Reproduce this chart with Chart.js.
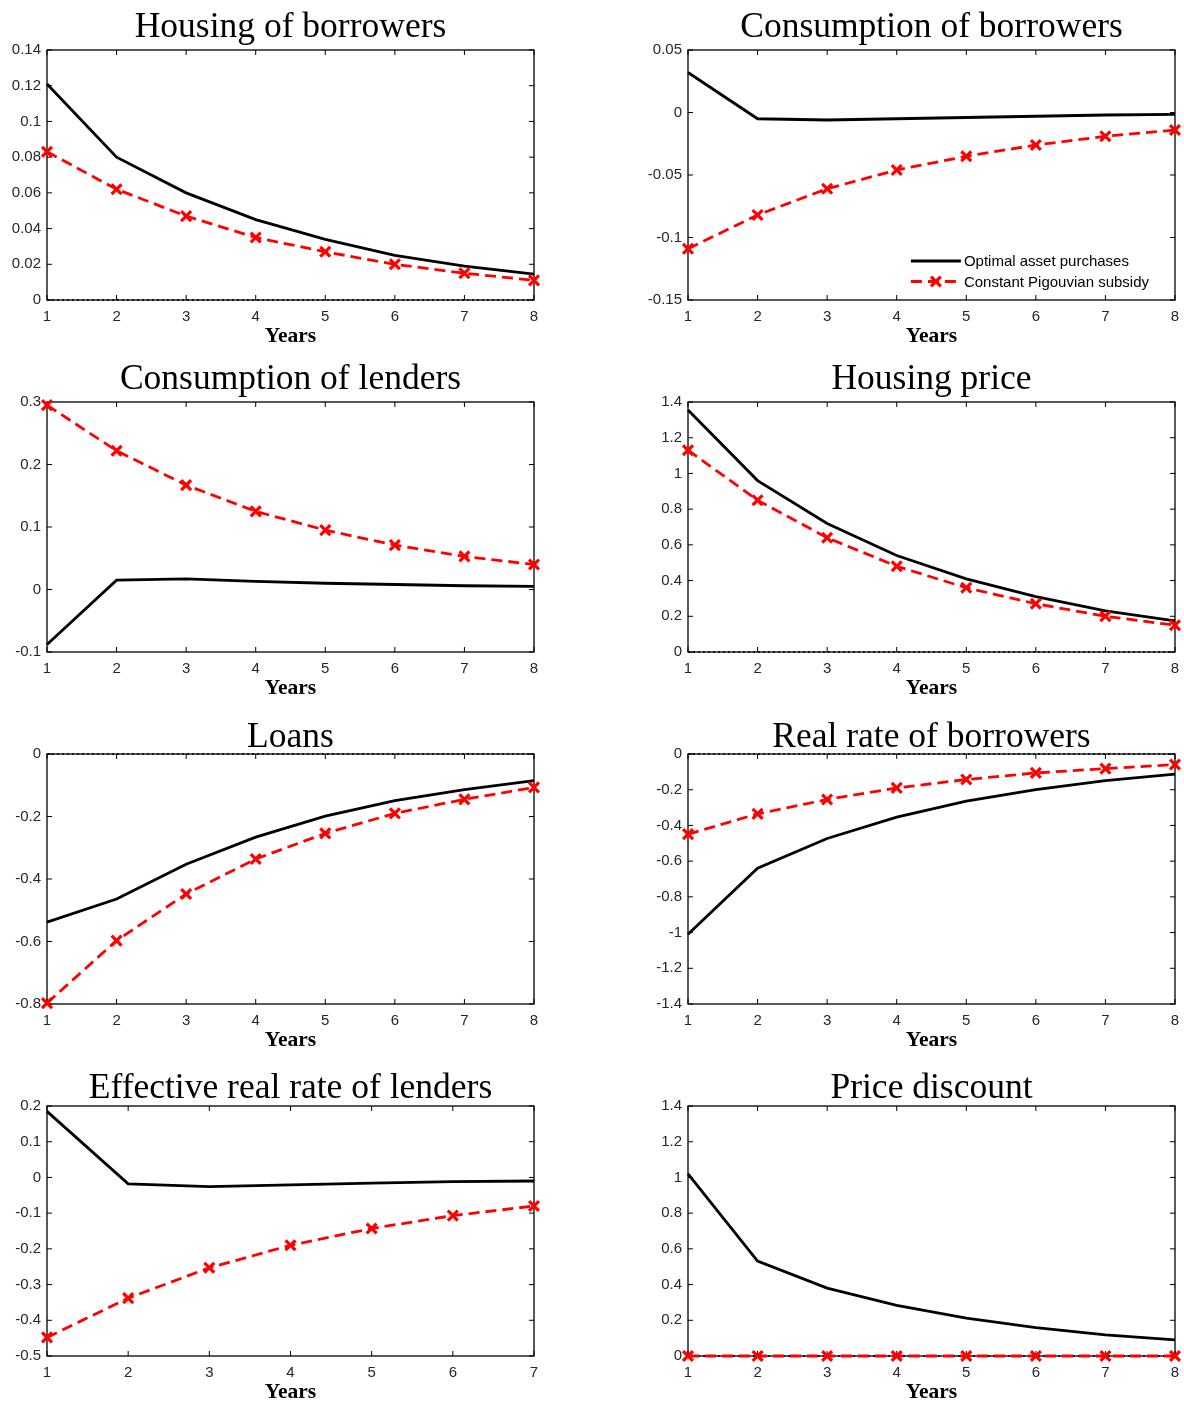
<!DOCTYPE html>
<html>
<head>
<meta charset="utf-8">
<script src="https://cdn.jsdelivr.net/npm/chart.js@4.4.1/dist/chart.umd.min.js"></script>
<style>
body { margin: 0; background: #fff; overflow: hidden; }
#wrap { position: relative; width: 1184px; height: 1403px; overflow: hidden; }
canvas { position: absolute; }
</style>
</head>
<body>
<div id="wrap">
    <canvas id="c1"></canvas>
    <canvas id="c2"></canvas>
    <canvas id="c3"></canvas>
    <canvas id="c4"></canvas>
    <canvas id="c5"></canvas>
    <canvas id="c6"></canvas>
    <canvas id="c7"></canvas>
    <canvas id="c8"></canvas>
</div>
<script>
const years8 = [1, 2, 3, 4, 5, 6, 7, 8];
const years7 = [1, 2, 3, 4, 5, 6, 7];
const seriesNames = ["Optimal asset purchases", "Constant Pigouvian subsidy"];

// Housing of borrowers
const housingBorrOpt = [0.121, 0.080, 0.060, 0.045, 0.034, 0.025, 0.019, 0.0145];
const housingBorrPig = [0.083, 0.062, 0.047, 0.035, 0.027, 0.020, 0.015, 0.011];
const housingBorrTicks = [0, 0.02, 0.04, 0.06, 0.08, 0.1, 0.12, 0.14];

// Consumption of borrowers
const consBorrOpt = [0.032, -0.005, -0.006, -0.005, -0.004, -0.003, -0.002, -0.0015];
const consBorrPig = [-0.109, -0.082, -0.061, -0.046, -0.035, -0.026, -0.019, -0.014];
const consBorrTicks = [-0.15, -0.1, -0.05, 0, 0.05];

// Consumption of lenders
const consLendOpt = [-0.088, 0.015, 0.017, 0.013, 0.010, 0.008, 0.006, 0.005];
const consLendPig = [0.295, 0.222, 0.167, 0.125, 0.095, 0.071, 0.053, 0.040];
const consLendTicks = [-0.1, 0, 0.1, 0.2, 0.3];

// Housing price
const housePriceOpt = [1.355, 0.96, 0.72, 0.54, 0.41, 0.31, 0.23, 0.174];
const housePricePig = [1.13, 0.85, 0.64, 0.48, 0.36, 0.27, 0.20, 0.15];
const housePriceTicks = [0, 0.2, 0.4, 0.6, 0.8, 1, 1.2, 1.4];

// Loans
const loansOpt = [-0.538, -0.464, -0.353, -0.266, -0.199, -0.149, -0.114, -0.085];
const loansPig = [-0.797, -0.597, -0.448, -0.336, -0.254, -0.190, -0.145, -0.107];
const loansTicks = [-0.8, -0.6, -0.4, -0.2, 0];

// Real rate of borrowers
const rateBorrOpt = [-1.01, -0.64, -0.473, -0.354, -0.264, -0.199, -0.149, -0.113];
const rateBorrPig = [-0.449, -0.335, -0.255, -0.190, -0.143, -0.106, -0.082, -0.059];
const rateBorrTicks = [-1.4, -1.2, -1, -0.8, -0.6, -0.4, -0.2, 0];

// Effective real rate of lenders
const rateLendOpt = [0.185, -0.018, -0.026, -0.021, -0.016, -0.012, -0.010];
const rateLendPig = [-0.448, -0.338, -0.253, -0.190, -0.143, -0.107, -0.080];
const rateLendTicks = [-0.5, -0.4, -0.3, -0.2, -0.1, 0, 0.1, 0.2];

// Price discount
const discountOpt = [1.02, 0.532, 0.380, 0.283, 0.212, 0.159, 0.118, 0.090];
const discountPig = [0, 0, 0, 0, 0, 0, 0, 0];
const discountTicks = [0, 0.2, 0.4, 0.6, 0.8, 1, 1.2, 1.4];

// layout of the 2x4 grid
const colLeft = [0, 590];
const colWidth = [560, 598];
const yAxisWidth = [47, 98];
const padRight = [26, 13];
const rowTop = [0, 352, 704, 1056];
const titleGap = [15, 15, 9, 10];

const tickFont = { family: "'Liberation Sans', Arial, sans-serif", size: 15 };
const tickColor = "#262626";

// box around the plot with inward ticks on all sides
const framePlugin = {
    id: "frame",
    beforeDatasetsDraw(chart) {
        const { ctx, chartArea: a, scales } = chart;
        ctx.save();
        ctx.strokeStyle = "#000";
        ctx.lineWidth = 1.3;
        ctx.strokeRect(a.left, a.top, a.right - a.left, a.bottom - a.top);
        ctx.lineWidth = 1;
        ctx.beginPath();
        scales.x.ticks.forEach((t) => {
            const px = scales.x.getPixelForValue(t.value);
            ctx.moveTo(px, a.bottom); ctx.lineTo(px, a.bottom - 5);
            ctx.moveTo(px, a.top); ctx.lineTo(px, a.top + 5);
        });
        scales.y.ticks.forEach((t) => {
            const py = scales.y.getPixelForValue(t.value);
            ctx.moveTo(a.left, py); ctx.lineTo(a.left + 5, py);
            ctx.moveTo(a.right, py); ctx.lineTo(a.right - 5, py);
        });
        ctx.stroke();
        ctx.restore();
    },
};

// legend inside the bottom-right corner (only on one panel)
const insideLegend = {
    id: "insideLegend",
    afterDatasetsDraw(chart) {
        const { ctx, chartArea: a } = chart;
        const items = chart.data.datasets.filter((d) => d.label);
        ctx.save();
        ctx.font = "15px 'Liberation Sans', Arial, sans-serif";
        const w = Math.max(...items.map((d) => ctx.measureText(d.label).width));
        const tx = a.right - 26 - w;
        items.forEach((d, i) => {
            const y = a.bottom - 39 + i * 20.5;
            ctx.strokeStyle = d.borderColor;
            ctx.lineWidth = d.borderWidth;
            ctx.setLineDash(d.borderDash || []);
            ctx.beginPath();
            ctx.moveTo(tx - 53, y);
            ctx.lineTo(tx - 3, y);
            ctx.stroke();
            if (d.pointRadius) {
                const r = d.pointRadius * 0.7;
                ctx.setLineDash([]);
                ctx.lineWidth = d.pointBorderWidth;
                ctx.beginPath();
                ctx.moveTo(tx - 28 - r, y - r); ctx.lineTo(tx - 28 + r, y + r);
                ctx.moveTo(tx - 28 - r, y + r); ctx.lineTo(tx - 28 + r, y - r);
                ctx.stroke();
            }
            ctx.fillStyle = "#000";
            ctx.textBaseline = "middle";
            ctx.fillText(d.label, tx, y + 1);
        });
        ctx.restore();
    },
};

function fmt(v) {
    const s = String(+v.toFixed(4));
    return s === "-0" ? "0" : s;
}

function makePanel(id, col, row, title, years, opt, pig, yTicks, zeroLine, legend) {
    const canvas = document.getElementById(id);
    canvas.width = colWidth[col];
    canvas.height = 350;
    canvas.style.left = colLeft[col] + "px";
    canvas.style.top = rowTop[row] + "px";

    const datasets = [
        {
            label: seriesNames[0],
            data: years.map((x, i) => ({ x: x, y: opt[i] })),
            borderColor: "#000",
            borderWidth: 2.8,
            pointRadius: 0,
            clip: false,
            order: 1,
        },
        {
            label: seriesNames[1],
            data: years.map((x, i) => ({ x: x, y: pig[i] })),
            borderColor: "#ff0000",
            borderWidth: 2.8,
            borderDash: [11, 6],
            pointStyle: "crossRot",
            pointRadius: 7,
            pointBorderWidth: 3.2,
            pointBorderColor: "#ff0000",
            pointBackgroundColor: "#ff0000",
            clip: false,
            order: 0,
        },
    ];
    if (zeroLine) {
        datasets.push({
            data: [{ x: years[0], y: 0 }, { x: years[years.length - 1], y: 0 }],
            borderColor: "#000",
            borderWidth: 1.5,
            borderDash: [2, 3],
            pointRadius: 0,
            clip: false,
            order: 2,
        });
    }

    new Chart(canvas, {
        type: "line",
        data: { datasets: datasets },
        plugins: legend ? [framePlugin, insideLegend] : [framePlugin],
        options: {
            responsive: false,
            animation: false,
            events: [],
            layout: { autoPadding: false, padding: { left: 0, right: padRight[col], top: 0, bottom: 0 } },
            plugins: { legend: { display: false }, tooltip: { enabled: false } },
            scales: {
                x: {
                    type: "linear",
                    min: years[0],
                    max: years[years.length - 1],
                    grid: { display: false, drawTicks: false },
                    border: { display: false },
                    ticks: { stepSize: 1, font: tickFont, color: tickColor, padding: 8, maxRotation: 0 },
                    title: {
                        display: true,
                        text: "Years",
                        color: "#000",
                        font: { family: "'Liberation Serif', 'Times New Roman', serif", size: 21.5, weight: "bold", lineHeight: 1 },
                        padding: { top: 0, bottom: 2.5 },
                    },
                    afterFit: (s) => { s.height = 50; },
                },
                top: {
                    type: "linear",
                    position: "top",
                    min: years[0],
                    max: years[years.length - 1],
                    grid: { display: false, drawTicks: false },
                    border: { display: false },
                    ticks: { display: false },
                    title: {
                        display: true,
                        text: title,
                        color: "#000",
                        font: { family: "'Liberation Serif', 'Times New Roman', serif", size: 35.5, lineHeight: 1 },
                        padding: { top: 25 - titleGap[row], bottom: 0 },
                    },
                    afterFit: (s) => { s.height = 50; },
                },
                y: {
                    type: "linear",
                    min: yTicks[0],
                    max: yTicks[yTicks.length - 1],
                    grid: { display: false, drawTicks: false },
                    border: { display: false },
                    afterBuildTicks: (s) => { s.ticks = yTicks.map((v) => ({ value: v })); },
                    ticks: { font: tickFont, color: tickColor, padding: 6, callback: (v) => fmt(v) },
                    afterFit: (s) => { s.width = yAxisWidth[col]; },
                },
            },
        },
    });
}

makePanel("c1", 0, 0, "Housing of borrowers", years8, housingBorrOpt, housingBorrPig, housingBorrTicks, true, false);
makePanel("c2", 1, 0, "Consumption of borrowers", years8, consBorrOpt, consBorrPig, consBorrTicks, false, true);
makePanel("c3", 0, 1, "Consumption of lenders", years8, consLendOpt, consLendPig, consLendTicks, false, false);
makePanel("c4", 1, 1, "Housing price", years8, housePriceOpt, housePricePig, housePriceTicks, true, false);
makePanel("c5", 0, 2, "Loans", years8, loansOpt, loansPig, loansTicks, true, false);
makePanel("c6", 1, 2, "Real rate of borrowers", years8, rateBorrOpt, rateBorrPig, rateBorrTicks, true, false);
makePanel("c7", 0, 3, "Effective real rate of lenders", years7, rateLendOpt, rateLendPig, rateLendTicks, false, false);
makePanel("c8", 1, 3, "Price discount", years8, discountOpt, discountPig, discountTicks, true, false);
</script>
</body>
</html>
